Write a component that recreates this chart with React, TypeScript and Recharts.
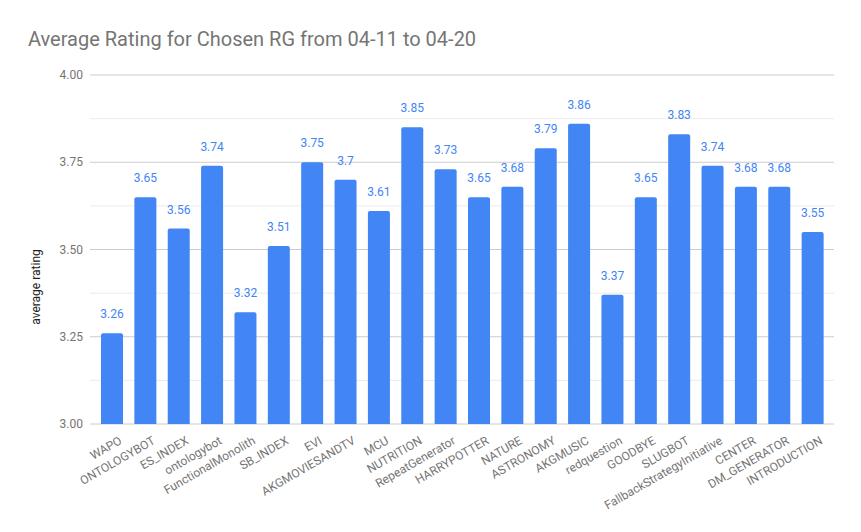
import { BarChart, Bar, XAxis, YAxis, CartesianGrid, LabelList } from 'recharts';

const categories = [
  'WAPO', 'ONTOLOGYBOT', 'ES_INDEX', 'ontologybot', 'FunctionalMonolith', 'SB_INDEX',
  'EVI', 'AKGMOVIESANDTV', 'MCU', 'NUTRITION', 'RepeatGenerator', 'HARRYPOTTER',
  'NATURE', 'ASTRONOMY', 'AKGMUSIC', 'redquestion', 'GOODBYE', 'SLUGBOT',
  'FallbackStrategyInitiative', 'CENTER', 'DM_GENERATOR', 'INTRODUCTION',
];

const ratings = [
  3.26, 3.65, 3.56, 3.74, 3.32, 3.51,
  3.75, 3.7, 3.61, 3.85, 3.73, 3.65,
  3.68, 3.79, 3.86, 3.37, 3.65, 3.83,
  3.74, 3.68, 3.68, 3.55,
];

// major ticks get a label, minor ones only a light gridline
const yTicks = [3, 3.125, 3.25, 3.375, 3.5, 3.625, 3.75, 3.875, 4];
const yMajor = [3, 3.25, 3.5, 3.75, 4];

const data = categories.map((name, i) => ({ name, rating: ratings[i] }));

const FONT = 'Roboto, Arial, sans-serif';

const XTick = ({ x, y, payload }: any) => {
  const ax = x + 11;
  const ay = y + 19;
  return (
    <text
      x={ax}
      y={ay}
      textAnchor="end"
      fill="#757575"
      fontSize={12}
      fontFamily={FONT}
      transform={`rotate(-30, ${ax}, ${ay})`}
    >
      {payload.value}
    </text>
  );
};

const YTick = ({ x, y, payload }: any) => {
  if (!yMajor.includes(payload.value)) return <g />;
  return (
    <text x={x} y={y} dy={4} textAnchor="end" fill="#757575" fontSize={12} fontFamily={FONT}>
      {payload.value.toFixed(2)}
    </text>
  );
};

const GridLine = (props: any) => {
  const major = props.index % 2 === 0;
  return (
    <line
      x1={props.x1}
      y1={props.y1}
      x2={props.x2}
      y2={props.y2}
      stroke={major ? '#cccccc' : '#ebebeb'}
      strokeWidth={1}
    />
  );
};

const App = () => {
  return (
    <div style={{ position: 'relative', width: 861, height: 532, margin: -8, background: '#fff' }}>
      <BarChart
        width={861}
        height={532}
        data={data}
        margin={{ top: 75, right: 27, bottom: 0, left: 30 }}
      >
        <CartesianGrid vertical={false} horizontal={GridLine} />
        <XAxis
          dataKey="name"
          interval={0}
          tickLine={false}
          axisLine={false}
          tickSize={0}
          tickMargin={0}
          padding={{ left: 5, right: 5 }}
          tick={<XTick />}
          height={108}
        />
        <YAxis
          domain={[3, 4]}
          ticks={yTicks}
          width={60}
          tickLine={false}
          axisLine={false}
          tickSize={0}
          tickMargin={7}
          tick={<YTick />}
          interval={0}
        />
        <Bar dataKey="rating" fill="#4285f4" barSize={22} radius={[2, 2, 0, 0]} isAnimationActive={false}>
          <LabelList
            dataKey="rating"
            position="top"
            offset={15}
            fill="#4285f4"
            fontSize={12}
            fontFamily={FONT}
          />
        </Bar>
      </BarChart>
      <svg
        width={861}
        height={532}
        style={{ position: 'absolute', left: 0, top: 0, pointerEvents: 'none' }}
      >
        <text x={28} y={46} fill="#757575" fontSize={20} fontFamily={FONT}>
          Average Rating for Chosen RG from 04-11 to 04-20
        </text>
        <text
          x={40}
          y={287}
          textAnchor="middle"
          fill="#222"
          fontSize={12}
          fontFamily={FONT}
          transform="rotate(-90, 40, 287)"
        >
          average rating
        </text>
      </svg>
    </div>
  );
};

export default App;
